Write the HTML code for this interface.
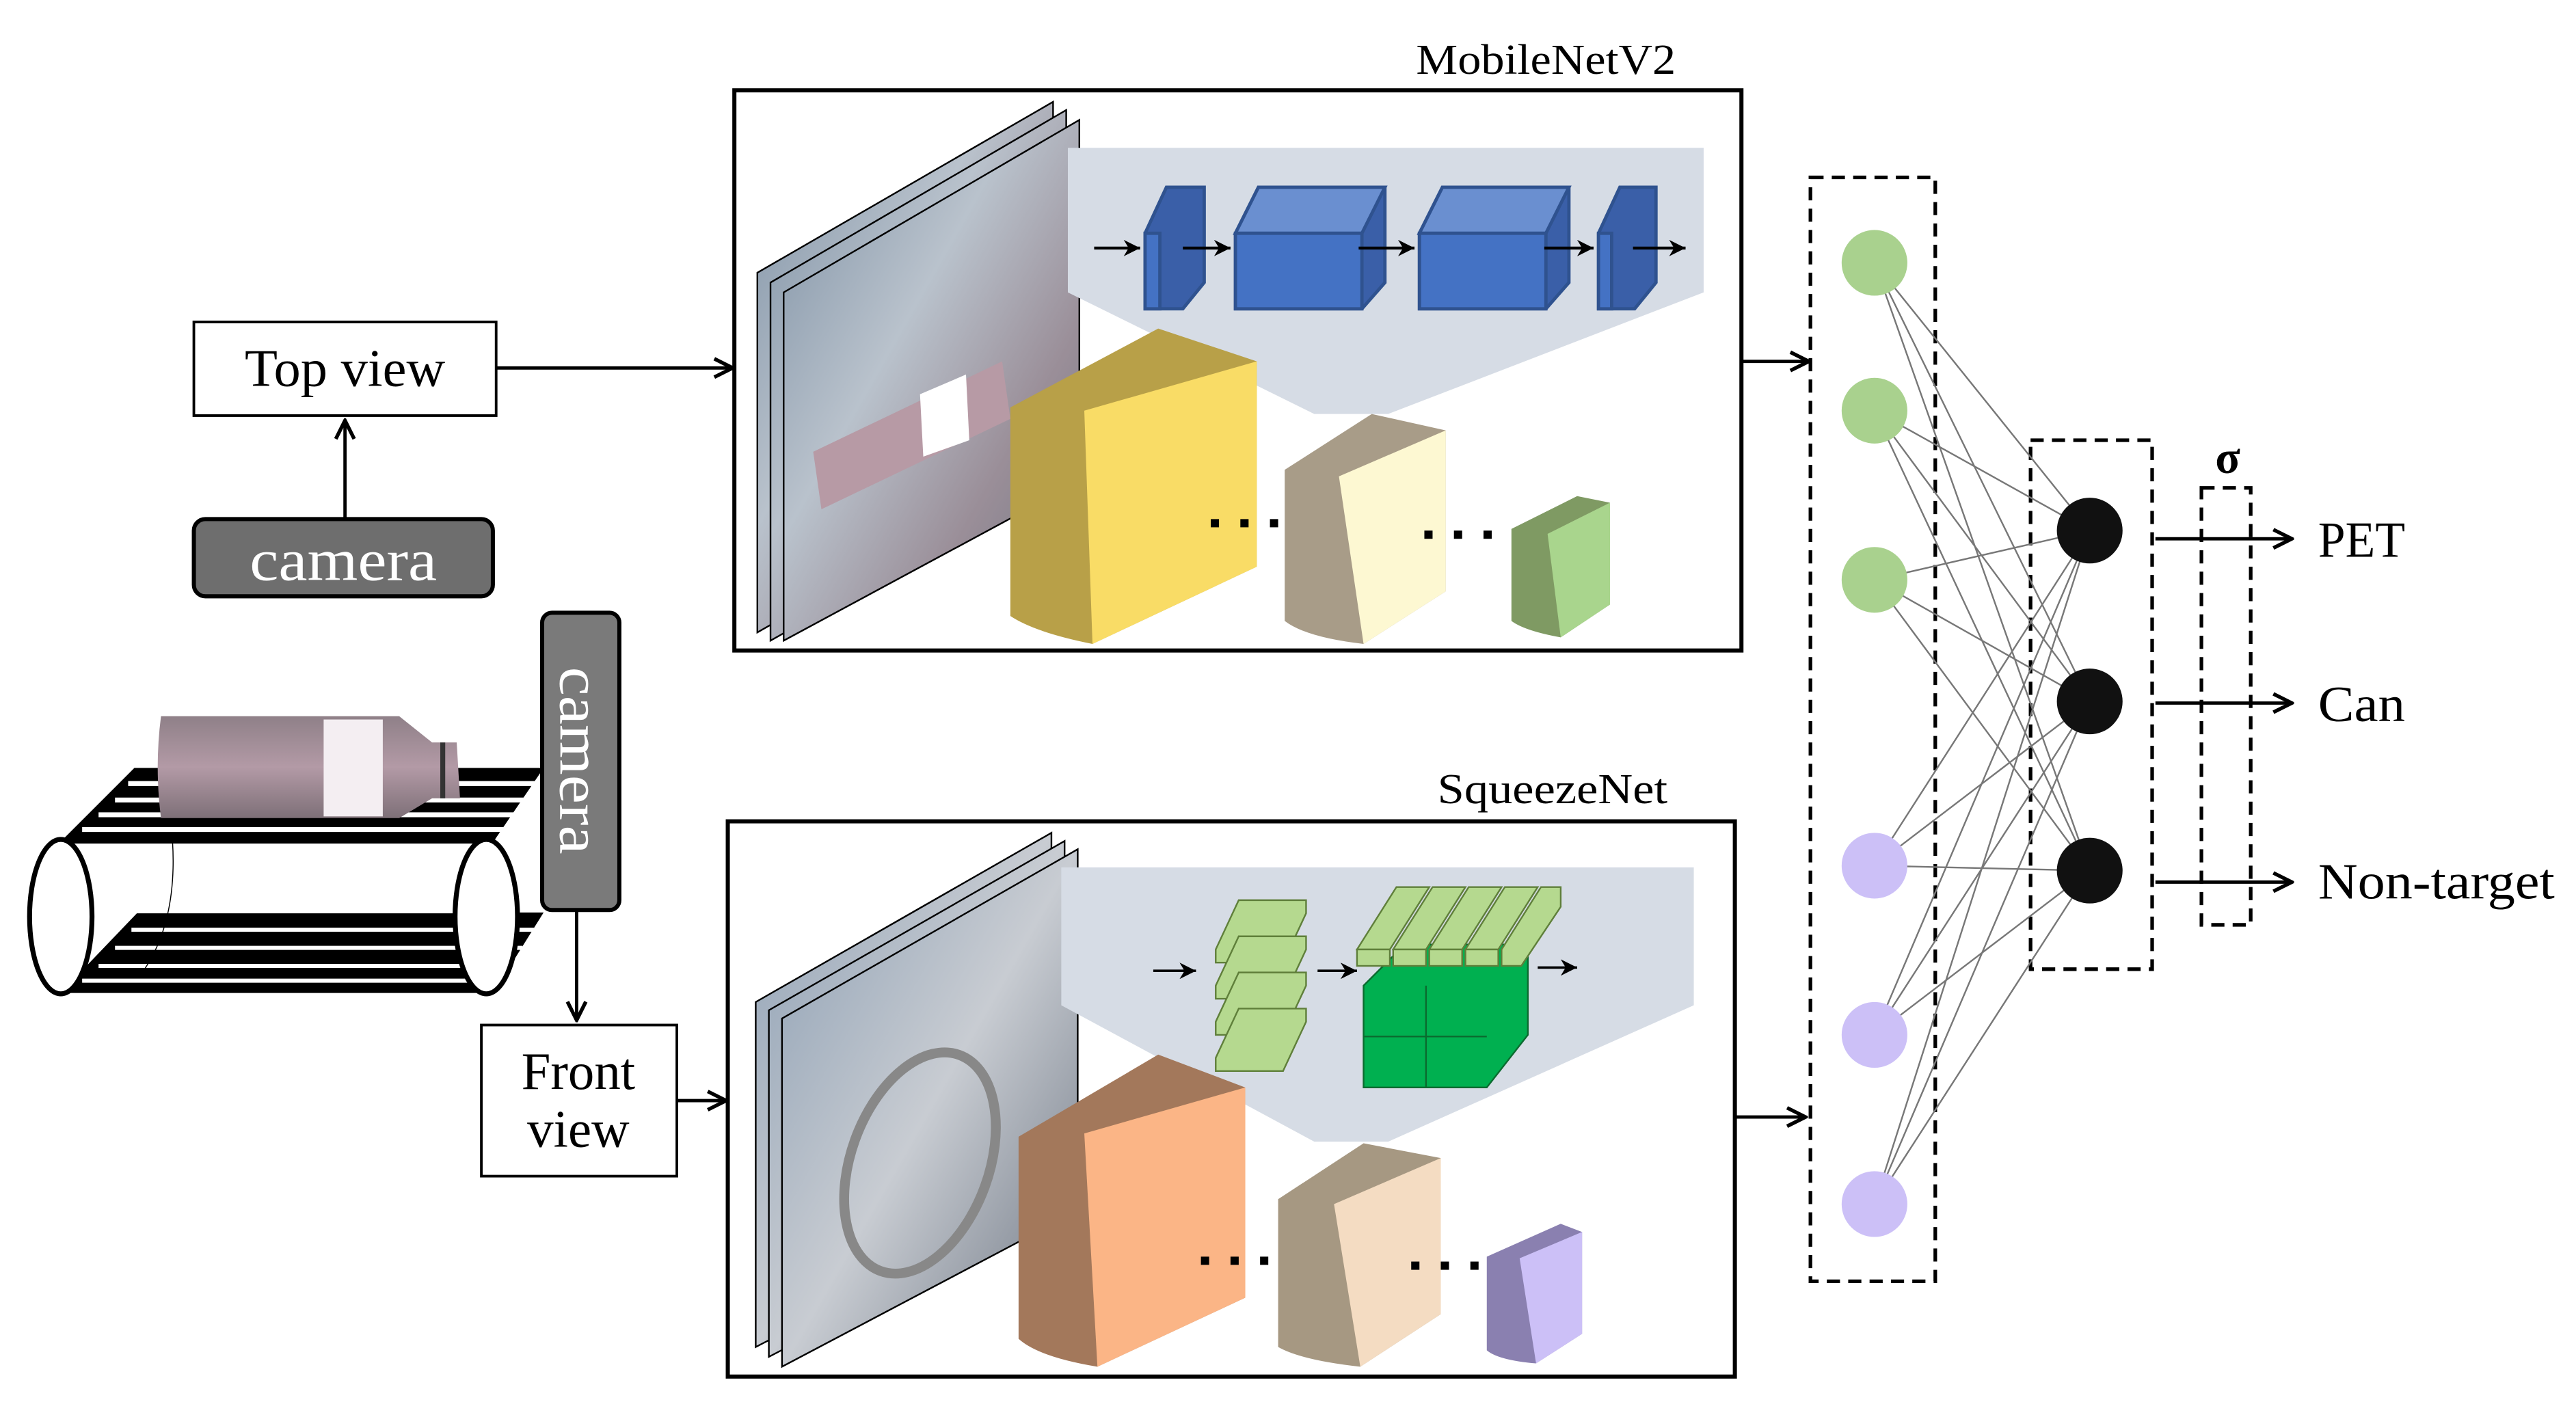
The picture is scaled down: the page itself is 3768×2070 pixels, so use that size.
<!DOCTYPE html>
<html><head><meta charset="utf-8"><style>html,body{margin:0;padding:0;background:#fff}svg{display:block}</style></head><body>
<svg width="3768" height="2070" viewBox="0 0 1568 861.4" xmlns="http://www.w3.org/2000/svg" font-family="Liberation Serif, serif">
<defs>
<marker id="ar2" viewBox="0 0 10 10" refX="9" refY="5" markerWidth="14" markerHeight="14" orient="auto" markerUnits="userSpaceOnUse"><path d="M1,1 L9,5 L1,9" fill="none" stroke="#000" stroke-width="1.6"/></marker>
<marker id="sa" viewBox="0 0 10 10" refX="10" refY="5" markerWidth="10" markerHeight="10" orient="auto" markerUnits="userSpaceOnUse"><path d="M0,0 L10,5 L0,10 L3,5z" fill="#000"/></marker>
<linearGradient id="img1" x1="0" y1="0" x2="1" y2="1"><stop offset="0" stop-color="#7c8fa3"/><stop offset=".4" stop-color="#b9c2cc"/><stop offset=".7" stop-color="#9a8e98"/><stop offset="1" stop-color="#6f7684"/></linearGradient>
<linearGradient id="img2" x1="0" y1="0" x2="1" y2="1"><stop offset="0" stop-color="#8ea0b4"/><stop offset=".5" stop-color="#c8ccd2"/><stop offset="1" stop-color="#6b7380"/></linearGradient>
<linearGradient id="bot" x1="0" y1="0" x2="0" y2="1"><stop offset="0" stop-color="#8f8088"/><stop offset=".5" stop-color="#b39aa6"/><stop offset="1" stop-color="#7e7078"/></linearGradient>
</defs>

<rect x="118" y="196" width="184" height="57" fill="#fff" stroke="#000" stroke-width="1.6"/>
<text x="210" y="235" font-size="32" text-anchor="middle" textLength="122" lengthAdjust="spacingAndGlyphs">Top view</text>
<rect x="118" y="316" width="182" height="47" rx="7" fill="#6e6e6e" stroke="#000" stroke-width="2.5"/>
<text x="209" y="353" font-size="36" text-anchor="middle" fill="#fff" textLength="114" lengthAdjust="spacingAndGlyphs">camera</text>
<line x1="210" y1="316" x2="210" y2="256" stroke="#000" stroke-width="2" marker-end="url(#ar2)"/>
<line x1="302" y1="224" x2="446" y2="224" stroke="#000" stroke-width="2" marker-end="url(#ar2)"/>

<g stroke="#000">
<polygon points="38,512 82,468 330,468 300,512" fill="#000"/>
<g stroke="#fff" stroke-width="3">
<line x1="78" y1="477" x2="328" y2="477"/><line x1="70" y1="487" x2="322" y2="487"/><line x1="60" y1="496" x2="316" y2="496"/><line x1="50" y1="505" x2="308" y2="505"/>
</g>
<polygon points="38,604 84,556 330,556 300,604" fill="#000"/>
<g stroke="#fff" stroke-width="2.5">
<line x1="80" y1="566" x2="325" y2="566"/><line x1="70" y1="577" x2="318" y2="577"/><line x1="60" y1="588" x2="310" y2="588"/><line x1="50" y1="597" x2="302" y2="597"/>
</g>
<rect x="38" y="512" width="262" height="44" fill="#fff" stroke="none"/>
<line x1="38" y1="512" x2="300" y2="512" stroke-width="3"/>
<ellipse cx="37" cy="558" rx="19" ry="47" fill="#fff" stroke-width="3"/>
<ellipse cx="296" cy="558" rx="19" ry="47" fill="#fff" stroke-width="3"/>
<path d="M105,512 Q108,560 88,590" fill="none" stroke-width=".6"/>
</g>
<path d="M98,436 L243,436 L263,452 L278,452 L280,486 L263,486 L243,498 L98,498 Q94,467 98,436z" fill="url(#bot)"/>
<rect x="197" y="438" width="36" height="59" fill="#f4eef2"/>
<rect x="268" y="452" width="3" height="34" fill="#333"/>

<rect x="330" y="373" width="47" height="181" rx="6" fill="#7a7a7a" stroke="#000" stroke-width="2.5"/>
<text transform="translate(341,463) rotate(90)" font-size="36" text-anchor="middle" fill="#fff" textLength="114" lengthAdjust="spacingAndGlyphs">camera</text>
<line x1="351" y1="554" x2="351" y2="621" stroke="#000" stroke-width="2" marker-end="url(#ar2)"/>
<rect x="293" y="624" width="119" height="92" fill="#fff" stroke="#000" stroke-width="1.6"/>
<text x="352" y="663" font-size="32" text-anchor="middle">Front</text>
<text x="352" y="698" font-size="32" text-anchor="middle">view</text>
<line x1="412" y1="670" x2="442" y2="670" stroke="#000" stroke-width="2" marker-end="url(#ar2)"/>

<text x="941" y="45" font-size="26" text-anchor="middle" textLength="158" lengthAdjust="spacingAndGlyphs">MobileNetV2</text>
<rect x="447" y="55" width="613" height="341" fill="#fff" stroke="#000" stroke-width="2.5"/>
<g stroke="#000" stroke-width="1">
<polygon points="461,166 641,62 641,282 461,385" fill="url(#img1)"/>
<polygon points="469,172 649,67 649,288 469,390" fill="url(#img1)"/>
<polygon points="477,178 657,73 657,293 477,390" fill="url(#img1)"/>
</g>
<polygon points="495,275 610,220 615,255 500,310" fill="#b79aa5"/>
<polygon points="560,240 588,228 590,268 562,278" fill="#fff"/>
<polygon points="650,90 1037,90 1037,178 845,252 800,252 650,178" fill="#d6dce5"/>
<g stroke="#2f528f" stroke-width="2">
<polygon points="697,142 710,114 733,114 733,172 720,188 697,188" fill="#3a5fa8"/>
<rect x="697" y="142" width="9" height="46" fill="#4472c4"/>
<polygon points="752,142 766,114 843,114 843,172 829,188 752,188" fill="#3a5fa8"/>
<polygon points="752,142 766,114 843,114 829,142" fill="#6a8fd0"/>
<rect x="752" y="142" width="77" height="46" fill="#4472c4"/>
<polygon points="864,142 878,114 955,114 955,172 941,188 864,188" fill="#3a5fa8"/>
<polygon points="864,142 878,114 955,114 941,142" fill="#6a8fd0"/>
<rect x="864" y="142" width="77" height="46" fill="#4472c4"/>
<polygon points="973,142 986,114 1008,114 1008,172 995,188 973,188" fill="#3a5fa8"/>
<rect x="973" y="142" width="8" height="46" fill="#4472c4"/>
</g>
<g stroke="#000" stroke-width="1.8">
<line x1="666" y1="151" x2="694" y2="151" marker-end="url(#sa)"/>
<line x1="720" y1="151" x2="749" y2="151" marker-end="url(#sa)"/>
<line x1="827" y1="151" x2="861" y2="151" marker-end="url(#sa)"/>
<line x1="940" y1="151" x2="970" y2="151" marker-end="url(#sa)"/>
<line x1="994" y1="151" x2="1026" y2="151" marker-end="url(#sa)"/>
</g>
<path d="M615,248 L705,200 L765,220 L765,345 L665,392 Q630,385 615,375z" fill="#b8a048"/>
<path d="M660,250 L765,220 L765,345 L665,392z" fill="#f9dc66"/>
<path d="M782,286 L835,252 L880,262 L880,360 L830,392 Q795,388 782,378z" fill="#a89c88"/>
<path d="M815,290 L880,262 L880,360 L830,392z" fill="#fdf8d2"/>
<path d="M920,322 L960,302 L980,306 L980,368 L950,388 Q928,384 920,378z" fill="#7f9a63"/>
<path d="M942,325 L980,306 L980,368 L950,388z" fill="#a9d58d"/>
<g fill="#000"><rect x="737" y="316" width="5" height="5"/><rect x="755" y="316" width="5" height="5"/><rect x="773" y="316" width="5" height="5"/>
<rect x="867" y="323" width="5" height="5"/><rect x="885" y="323" width="5" height="5"/><rect x="903" y="323" width="5" height="5"/></g>

<text x="945" y="489" font-size="26" text-anchor="middle" textLength="140" lengthAdjust="spacingAndGlyphs">SqueezeNet</text>
<rect x="443" y="500" width="613" height="338" fill="#fff" stroke="#000" stroke-width="2.5"/>
<g stroke="#000" stroke-width="1">
<polygon points="460,610 640,507 640,727 460,820" fill="url(#img2)"/>
<polygon points="468,615 648,512 648,732 468,826" fill="url(#img2)"/>
<polygon points="476,620 656,517 656,737 476,832" fill="url(#img2)"/>
</g>
<ellipse cx="560" cy="708" rx="42" ry="70" transform="rotate(20 560 708)" fill="none" stroke="#888" stroke-width="6"/>
<polygon points="646,528 1031,528 1031,612 845,695 800,695 646,612" fill="#d6dce5"/>
<g stroke="#5f7f3a" stroke-width="1">
<g fill="#b5d98f">
<polygon points="740,578 754,548 795,548 795,556 781,586 740,586"/>
<polygon points="740,600 754,570 795,570 795,578 781,608 740,608"/>
<polygon points="740,622 754,592 795,592 795,600 781,630 740,630"/>
<polygon points="740,644 754,614 795,614 795,622 781,652 740,652"/>
</g>
<polygon points="830,600 855,575 930,575 930,630 905,662 830,662" fill="#00b050" stroke="#0b6b2f"/>
<g stroke="#0b6b2f"><line x1="830" y1="631" x2="905" y2="631"/><line x1="868" y1="600" x2="868" y2="662"/></g>
<g fill="#b5d98f">
<polygon points="826,578 850,540 870,540 846,578"/>
<polygon points="848,578 872,540 892,540 868,578"/>
<polygon points="870,578 894,540 914,540 890,578"/>
<polygon points="892,578 916,540 936,540 912,578"/>
<polygon points="914,578 938,540 950,540 950,552 926,588 914,588"/>
<rect x="826" y="578" width="20" height="10"/><rect x="848" y="578" width="20" height="10"/><rect x="870" y="578" width="20" height="10"/><rect x="892" y="578" width="20" height="10"/>
</g>
</g>
<g stroke="#000" stroke-width="1.5">
<line x1="702" y1="591" x2="728" y2="591" marker-end="url(#sa)"/>
<line x1="802" y1="591" x2="826" y2="591" marker-end="url(#sa)"/>
<line x1="936" y1="589" x2="960" y2="589" marker-end="url(#sa)"/>
</g>
<path d="M620,692 L705,642 L758,662 L758,790 L668,832 Q632,826 620,815z" fill="#a3785b"/>
<path d="M660,690 L758,662 L758,790 L668,832z" fill="#fbb586"/>
<path d="M778,730 L830,696 L877,705 L877,800 L828,832 Q792,828 778,820z" fill="#a69882"/>
<path d="M812,733 L877,705 L877,800 L828,832z" fill="#f4dcc2"/>
<path d="M905,765 L950,745 L963,750 L963,812 L935,830 Q912,828 905,822z" fill="#8a80b0"/>
<path d="M925,766 L963,750 L963,812 L935,830z" fill="#ccc0f7"/>
<g fill="#000"><rect x="731" y="765" width="5" height="5"/><rect x="749" y="765" width="5" height="5"/><rect x="767" y="765" width="5" height="5"/>
<rect x="859" y="768" width="5" height="5"/><rect x="877" y="768" width="5" height="5"/><rect x="895" y="768" width="5" height="5"/></g>

<line x1="1060" y1="220" x2="1101" y2="220" stroke="#000" stroke-width="2" marker-end="url(#ar2)"/>
<line x1="1056" y1="680" x2="1099" y2="680" stroke="#000" stroke-width="2" marker-end="url(#ar2)"/>

<g stroke="#000" stroke-width="2.2" stroke-dasharray="8,5" fill="none">
<rect x="1102" y="108" width="76" height="672"/>
<rect x="1236" y="268" width="74" height="322"/>
<rect x="1340" y="297" width="30" height="266"/>
</g>
<g stroke="#777" stroke-width="1">
<line x1="1141" y1="160" x2="1272" y2="323"/><line x1="1141" y1="160" x2="1272" y2="427"/><line x1="1141" y1="160" x2="1272" y2="530"/>
<line x1="1141" y1="250" x2="1272" y2="323"/><line x1="1141" y1="250" x2="1272" y2="427"/><line x1="1141" y1="250" x2="1272" y2="530"/>
<line x1="1141" y1="353" x2="1272" y2="323"/><line x1="1141" y1="353" x2="1272" y2="427"/><line x1="1141" y1="353" x2="1272" y2="530"/>
<line x1="1141" y1="527" x2="1272" y2="323"/><line x1="1141" y1="527" x2="1272" y2="427"/><line x1="1141" y1="527" x2="1272" y2="530"/>
<line x1="1141" y1="630" x2="1272" y2="323"/><line x1="1141" y1="630" x2="1272" y2="427"/><line x1="1141" y1="630" x2="1272" y2="530"/>
<line x1="1141" y1="733" x2="1272" y2="323"/><line x1="1141" y1="733" x2="1272" y2="427"/><line x1="1141" y1="733" x2="1272" y2="530"/>
</g>
<g fill="#a9d18e"><circle cx="1141" cy="160" r="20"/><circle cx="1141" cy="250" r="20"/><circle cx="1141" cy="353" r="20"/></g>
<g fill="#ccc0f7"><circle cx="1141" cy="527" r="20"/><circle cx="1141" cy="630" r="20"/><circle cx="1141" cy="733" r="20"/></g>
<g fill="#111"><circle cx="1272" cy="323" r="20"/><circle cx="1272" cy="427" r="20"/><circle cx="1272" cy="530" r="20"/></g>
<text x="1356" y="288" font-size="28" font-weight="bold" text-anchor="middle">σ</text>
<g stroke="#000" stroke-width="2">
<line x1="1312" y1="328" x2="1395" y2="328" marker-end="url(#ar2)"/>
<line x1="1312" y1="428" x2="1395" y2="428" marker-end="url(#ar2)"/>
<line x1="1312" y1="537" x2="1395" y2="537" marker-end="url(#ar2)"/>
</g>
<g font-size="31"><text x="1411" y="339" textLength="53" lengthAdjust="spacingAndGlyphs">PET</text><text x="1411" y="439" textLength="53" lengthAdjust="spacingAndGlyphs">Can</text><text x="1411" y="547" textLength="144" lengthAdjust="spacingAndGlyphs">Non-target</text></g>
</svg>
</body></html>
